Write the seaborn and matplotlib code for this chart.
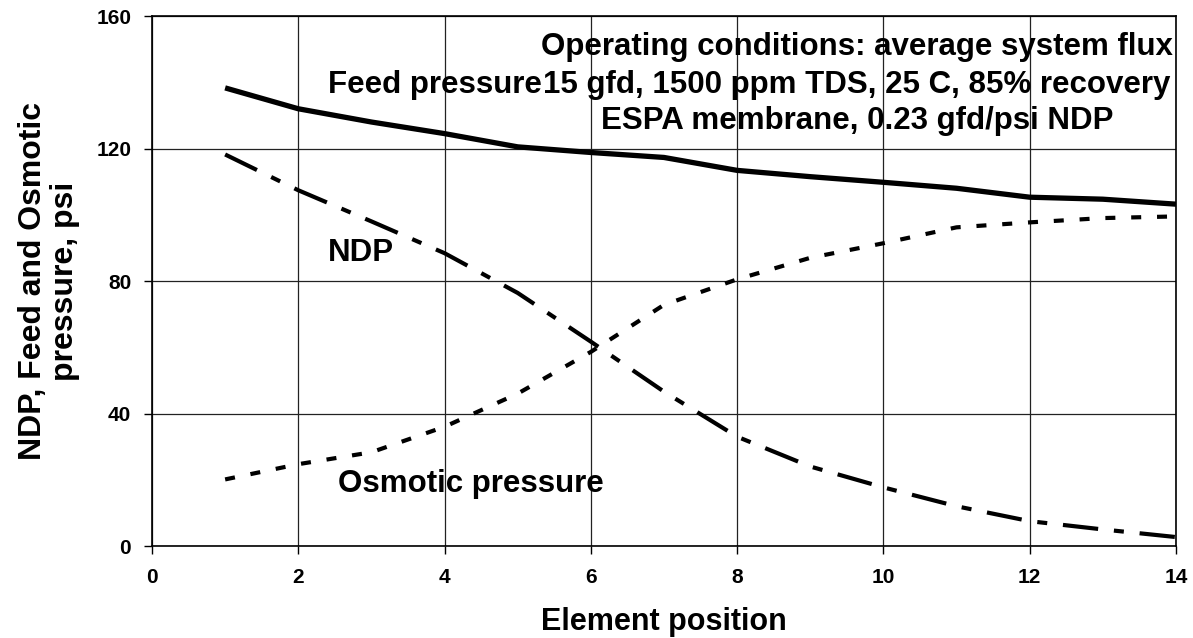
import numpy as np
import pandas as pd
import seaborn as sns
import matplotlib.pyplot as plt

# Element positions and pressures (psi)
position = [1, 2, 3, 4, 5, 6, 7, 8, 9, 10, 11, 12, 13, 14]
feed_pressure = [138.3, 132.0, 128.0, 124.5, 120.5, 118.8, 117.3, 113.4, 111.5, 109.8, 108.0, 105.3, 104.7, 103.2]
ndp = [118.2, 107.4, 98.0, 88.4, 76.4, 61.7, 46.6, 33.0, 24.0, 17.7, 12.0, 7.5, 5.0, 2.7]
osmotic_pressure = [20.1, 24.7, 28.3, 36.0, 46.0, 58.6, 72.8, 80.5, 87.0, 91.4, 96.2, 97.7, 99.0, 99.5]

x_ticks = [0, 2, 4, 6, 8, 10, 12, 14]
y_ticks = [0, 40, 80, 120, 160]

sns.set_style('white')
plt.rcParams['font.family'] = ['Liberation Sans', 'DejaVu Sans']
plt.rcParams['font.weight'] = 'bold'
plt.rcParams['text.color'] = 'black'
plt.rcParams['xtick.color'] = 'black'
plt.rcParams['ytick.color'] = 'black'

df = pd.DataFrame({'position': position, 'feed': feed_pressure,
                   'ndp': ndp, 'osmotic': osmotic_pressure})

fig = plt.figure(figsize=(11.93, 6.38), dpi=100)
ax = fig.add_axes([0.1274, 0.1442, 0.9857 - 0.1274, 0.9749 - 0.1442])

# grid first so lines sit on top
ax.set_axisbelow(True)
ax.grid(True, color='#222222', linewidth=0.9)

sns.lineplot(x='position', y='feed', data=df, ax=ax, color='black', linewidth=3.8)
sns.lineplot(x='position', y='ndp', data=df, ax=ax, color='black', linewidth=3.0)
sns.lineplot(x='position', y='osmotic', data=df, ax=ax, color='black', linewidth=3.0)

lines = ax.get_lines()
lines[1].set_dashes((8.5, 3.8, 2.4, 3.8))
lines[2].set_dashes((2.4, 3.8))
for ln in lines:
    ln.set_solid_capstyle('butt')
    ln.set_dash_capstyle('butt')

ax.set_xlim(0, 14)
ax.set_ylim(0, 160)
ax.set_xticks(x_ticks)
ax.set_yticks(y_ticks)
ax.tick_params(axis='both', direction='out', length=6, width=1, color='black',
               labelsize=15, bottom=True, left=True)
ax.tick_params(axis='x', pad=10)
ax.tick_params(axis='y', pad=9)
for lab in ax.get_xticklabels() + ax.get_yticklabels():
    lab.set_fontweight('bold')
for s in ax.spines.values():
    s.set_color('black')
    s.set_linewidth(1.2)
ax.set_xlabel('')
ax.set_ylabel('')

# axis titles
fig.text(664 / 1193, 1 - 622 / 638, 'Element position', ha='center', va='center',
         fontsize=22, fontweight='bold')
fig.text(49 / 1193, 1 - 281 / 638, 'NDP, Feed and Osmotic\npressure, psi', rotation=90,
         ha='center', va='center', multialignment='center', fontsize=23,
         fontweight='bold', linespacing=1.1)

# annotations
kw = dict(fontsize=22.5, fontweight='bold', va='center')
ax.text(9.64, 150.6, 'Operating conditions: average system flux', ha='center', **kw)
ax.text(9.64, 139.2, '15 gfd, 1500 ppm TDS, 25 C, 85% recovery', ha='center', **kw)
ax.text(9.64, 128.3, 'ESPA membrane, 0.23 gfd/psi NDP', ha='center', **kw)
ax.text(2.41, 139.2, 'Feed pressure', ha='left', **kw)
ax.text(2.41, 88.5, 'NDP', ha='left', **kw)
ax.text(2.54, 18.7, 'Osmotic pressure', ha='left', **kw)

fig.savefig('out.png', dpi=100)
